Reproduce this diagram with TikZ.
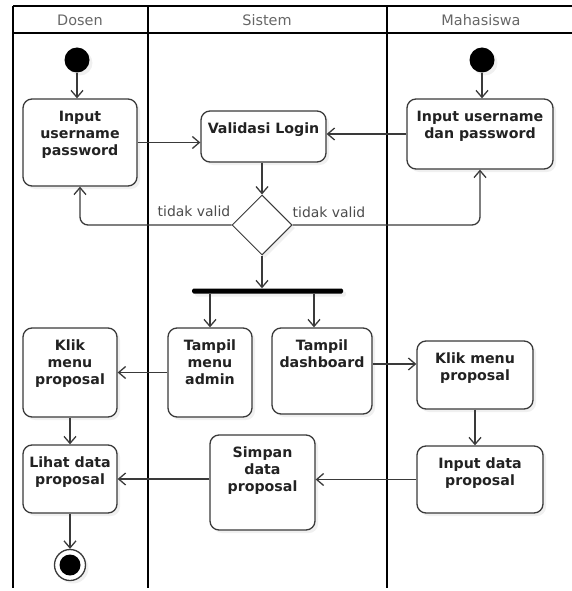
\documentclass[tikz,border=0pt]{standalone}
\usepackage{fontspec}
\setmainfont{DejaVu Sans}
\usepackage{tikz}
\definecolor{umlline}{HTML}{3A3A3A}
\definecolor{umltext}{HTML}{222222}
\usetikzlibrary{shapes.geometric,arrows.meta,shadows,calc}
\tikzset{>={Straight Barb[length=7bp,width=12bp]},
    lane/.style={draw=black, line width=1.6bp},
    lanehead/.style={font=\fontsize{14.5}{17}\selectfont, text=black!60},
    softshadow/.style={drop shadow={shadow xshift=3bp, shadow yshift=-3bp, opacity=.12}},
    act/.style={draw=umlline, fill=white, line width=1.3bp, rounded corners=9bp, softshadow},
    acttext/.style={anchor=north, yshift=-12.5bp, inner sep=0pt, align=center, text=umltext,
        font=\fontsize{14.25}{17}\selectfont\bfseries},
    flow/.style={->, draw=umlline, line width=1.3bp},
    guard/.style={font=\fontsize{14}{17}\selectfont, text=black!70},
    startdot/.style={circle, fill=black, minimum size=25bp, inner sep=0pt, softshadow},
    enddot/.style={circle, draw=umlline, fill=white, line width=1.3bp, minimum size=31bp, inner sep=0pt,
        path picture={\fill[black] (path picture bounding box.center) circle (10.5bp);}, softshadow},
    decision/.style={diamond, draw=umlline, fill=white, line width=1bp, minimum size=60bp, inner sep=0pt, softshadow},
    forkbar/.style={fill=black, minimum width=151bp, minimum height=5bp, inner sep=0pt, rounded corners=1.5bp, softshadow}}

\begin{document}
\begin{tikzpicture}[x=1bp, y=-1bp]
    \useasboundingbox (0,0) rectangle (572,591);
    \clip (0,0) rectangle (572,591);
    \draw[lane] (13,6) -- (575,6);
    \draw[lane] (13,33) -- (575,33);
    \foreach \x in {13, 148, 387} {
      \draw[lane] (\x,6) -- (\x,588);
    }
    \node[lanehead] (hDosen) at (80,20) {Dosen};
    \node[lanehead] (hSistem) at (267,20) {Sistem};
    \node[lanehead] (hMhs) at (481,20) {Mahasiswa};

    \node[startdot] (startD) at (77,60) {};
    \node[startdot] (startM) at (482,60) {};
    \node[act, minimum width=114bp, minimum height=87bp, label={[acttext]north:Input\\username\\password}] (loginD) at (80,142.5) {};
    \node[act, minimum width=125bp, minimum height=51bp, label={[acttext]north:Validasi Login}] (valid) at (263.5,136.5) {};
    \node[act, minimum width=146bp, minimum height=70bp, label={[acttext]north:Input username\\dan password}] (loginM) at (480,134) {};
    \node[decision] (cek) at (262,225) {};
    \node[guard] (gLeft) at (194,211) {tidak valid};
    \node[guard] (gRight) at (329,212) {tidak valid};
    \node[forkbar] (bar) at (267.5,291) {};
    \node[act, minimum width=94bp, minimum height=89bp, label={[acttext]north:Klik\\menu\\proposal}] (klikD) at (70,372.5) {};
    \node[act, minimum width=84bp, minimum height=89bp, label={[acttext]north:Tampil\\menu\\admin}] (admin) at (210,372.5) {};
    \node[act, minimum width=100bp, minimum height=86bp, label={[acttext]north:Tampil\\dashboard}] (dash) at (322,371) {};
    \node[act, minimum width=116bp, minimum height=68bp, label={[acttext]north:Klik menu\\proposal}] (klikM) at (475,375) {};
    \node[act, minimum width=94bp, minimum height=68bp, label={[acttext]north:Lihat data\\proposal}] (lihat) at (70,479) {};
    \node[act, minimum width=105bp, minimum height=95bp, label={[acttext]north:Simpan\\data\\proposal}] (simpan) at (262.5,482.5) {};
    \node[act, minimum width=126bp, minimum height=67bp, label={[acttext]north:Input data\\proposal}] (inData) at (480,479.5) {};
    \node[enddot] (finish) at (70,565) {};

    \draw[flow] (startD) -- (startD |- loginD.north);
    \draw[flow] (startM) -- (startM |- loginM.north);
    \draw[flow] (loginD) -- (loginD -| valid.west);
    \draw[flow] (loginM) -- (loginM -| valid.east);
    \draw[flow] (valid.south -| cek) -- (cek.north);
    \draw[flow, rounded corners=8bp] (cek.west) -| (loginD.south);
    \draw[flow, rounded corners=8bp] (cek.east) -| (loginM.south);
    \draw[flow] (cek.south) -- (cek.south |- bar.north);
    \draw[flow] (bar.south -| admin.north) -- (admin.north);
    \coordinate (dashTop) at ([xshift=-8bp]dash.north);
    \draw[flow] (bar.south -| dashTop) -- (dashTop);
    \draw[flow] (admin.west) -- (admin.west -| klikD.east);
    \coordinate (dashOut) at ([yshift=7bp]dash.east);
    \draw[flow] (dashOut) -- (dashOut -| klikM.west);
    \draw[flow] (klikD) -- (klikD |- lihat.north);
    \draw[flow] (klikM.south) -- (klikM.south |- inData.north);
    \draw[flow] (inData.west) -- (inData.west -| simpan.east);
    \draw[flow] (simpan.west |- lihat) -- (lihat.east);
    \draw[flow] (lihat) -- (lihat |- finish.north);
\end{tikzpicture}
\end{document}
